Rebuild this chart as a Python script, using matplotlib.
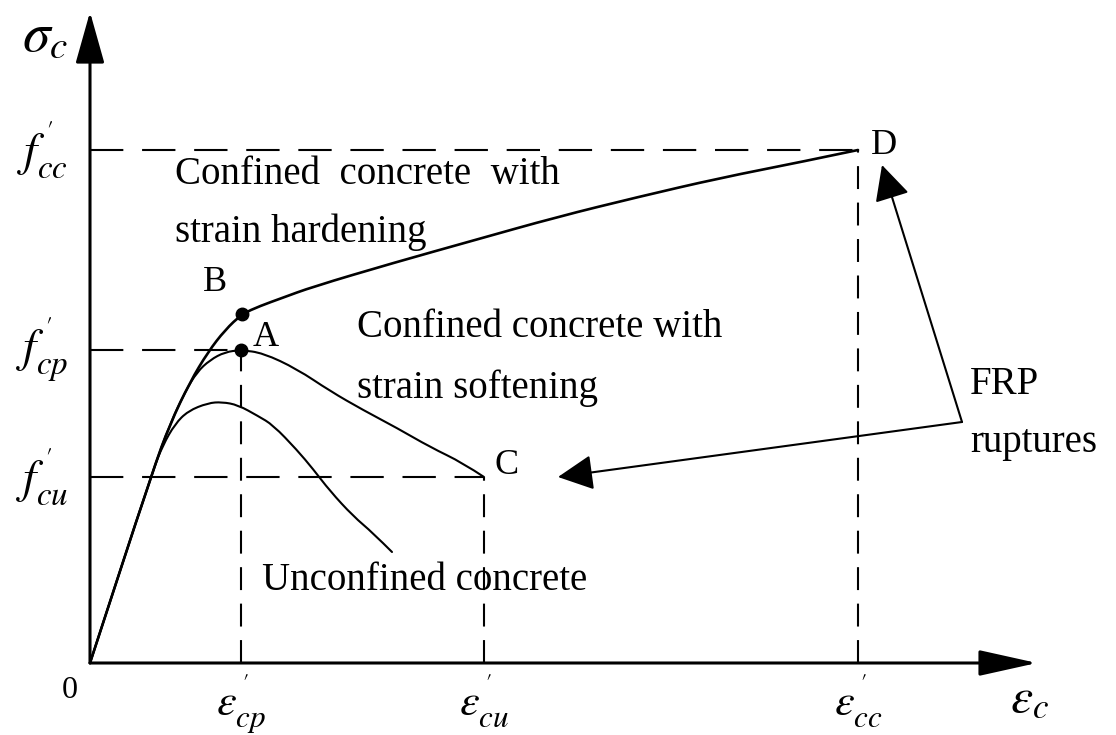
import numpy as np
import matplotlib
matplotlib.use("Agg")
import matplotlib.pyplot as plt
from matplotlib.patches import FancyArrowPatch, PathPatch
from matplotlib.path import Path

plt.rcParams["font.family"] = ["Liberation Serif", "DejaVu Serif"]
plt.rcParams["mathtext.fontset"] = "stix"

# characteristic points (arbitrary units)
eps_cp, eps_cu, eps_cc = 1.51, 3.94, 7.68
f_cp, f_cu, f_cc = 3.13, 1.86, 5.13

# confined concrete, strain hardening (O - B - D)
hard_eps = [0, 0.63, 0.80, 1.00, 1.18, 1.35, 1.52, 1.70, 1.92, 2.22, 3.03,
            3.85, 4.67, 5.48, 6.30, 7.11, 7.68]
hard_sig = [0, 1.93, 2.39, 2.81, 3.11, 3.33, 3.49, 3.57, 3.65, 3.76, 4.00,
            4.23, 4.46, 4.66, 4.85, 5.01, 5.13]
# confined concrete, strain softening (O - A - C)
soft_eps = [0, 0.63, 0.80, 0.95, 1.07, 1.20, 1.35, 1.51, 1.73, 2.07, 2.40,
            2.73, 3.07, 3.40, 3.73, 3.94]
soft_sig = [0, 1.93, 2.39, 2.71, 2.91, 3.03, 3.11, 3.13, 3.10, 2.94, 2.72,
            2.53, 2.35, 2.16, 2.00, 1.86]
# unconfined concrete
unc_eps = [0, 0.63, 0.73, 0.85, 0.98, 1.18, 1.32, 1.48, 1.68, 1.83, 2.07,
           2.23, 2.40, 2.63, 2.83, 3.02]
unc_sig = [0, 1.93, 2.18, 2.39, 2.52, 2.60, 2.61, 2.58, 2.47, 2.38, 2.13,
           1.94, 1.72, 1.47, 1.30, 1.11]

pt_A = (eps_cp, f_cp)
pt_B = (1.52, 3.49)
frp_tail = (8.72, 2.41)
frp_tips = [(7.92, 4.98), (4.68, 1.86)]


def smooth_curve(ax, xs, ys, lw):
    # quadratic b-spline through the read points (corner cutting only for drawing)
    p = np.column_stack([xs, ys])
    verts = [p[0], (p[0] + p[1]) / 2]
    codes = [Path.MOVETO, Path.LINETO]
    for i in range(1, len(p) - 1):
        end = (p[i] + p[i + 1]) / 2 if i < len(p) - 2 else p[i + 1]
        verts += [p[i], end]
        codes += [Path.CURVE3, Path.CURVE3]
    ax.add_patch(PathPatch(Path(verts, codes), fill=False, lw=lw, ec="black",
                           capstyle="round", joinstyle="round"))


fig = plt.figure(figsize=(11.16, 7.35), dpi=100)
ax = fig.add_axes([0, 0, 1, 1])
ax.set_xlim(-0.90, 10.26)
ax.set_ylim(-0.72, 6.63)
ax.axis("off")

# dashed guides
hd = dict(color="black", lw=1.5, dashes=(16, 9))
vd = dict(color="black", lw=1.5, dashes=(11, 6.5))
ax.plot([0, eps_cc], [f_cc, f_cc], **hd)
ax.plot([0, eps_cp], [f_cp, f_cp], **hd)
ax.plot([0, eps_cu], [f_cu, f_cu], **hd)
ax.plot([eps_cc, eps_cc], [0, f_cc], **vd)
ax.plot([eps_cp, eps_cp], [0, f_cp], **vd)
ax.plot([eps_cu, eps_cu], [0, f_cu], **vd)

# curves
smooth_curve(ax, hard_eps, hard_sig, 1.9)
smooth_curve(ax, soft_eps, soft_sig, 1.5)
smooth_curve(ax, unc_eps, unc_sig, 1.5)
ax.plot(*zip(pt_A, pt_B), "o", color="black", ms=9, ls="none")

# axes with arrows
ax.add_patch(FancyArrowPatch((0, 0), (0, 6.51), arrowstyle="-|>,head_length=1.6,head_width=0.45",
                             mutation_scale=20, lw=2.2, color="black", shrinkA=0, shrinkB=0))
ax.add_patch(FancyArrowPatch((0, 0), (9.47, 0), arrowstyle="-|>,head_length=1.8,head_width=0.4",
                             mutation_scale=20, lw=2.2, color="black", shrinkA=0, shrinkB=0))

# FRP rupture arrows
for tip in frp_tips:
    ax.add_patch(FancyArrowPatch(frp_tail, tip, arrowstyle="-|>,head_length=1.1,head_width=0.55",
                                 mutation_scale=20, lw=1.5, color="black", shrinkA=0, shrinkB=0))

# labels
ax.text(-0.45, 6.26, r"$\sigma_c$", fontsize=40, ha="center", va="center")
for lab, y in [("cc", f_cc), ("cp", f_cp), ("cu", f_cu)]:
    ax.text(-0.22, y, r"$f^{\,'}_{%s}$" % lab, fontsize=34, ha="right", va="center")
ax.text(-0.20, -0.28, "0", fontsize=23, ha="center", va="center")
for lab, x in [("cp", eps_cp), ("cu", eps_cu), ("cc", eps_cc)]:
    ax.text(x, -0.53, r"$\varepsilon^{\,'}_{%s}$" % lab, fontsize=32, ha="center", va="baseline")
ax.text(9.40, -0.48, r"$\varepsilon_c$", fontsize=36, ha="center", va="baseline")

fs = 28
ax.text(1.25, 3.80, "B", fontsize=26, ha="center", va="center")
ax.text(1.76, 3.25, "A", fontsize=26, ha="center", va="center")
ax.text(4.17, 1.97, "C", fontsize=26, ha="center", va="center")
ax.text(7.94, 5.18, "D", fontsize=26, ha="center", va="center")
ax.text(0.85, 4.88, "Confined  concrete  with", fontsize=fs, ha="left", va="center")
ax.text(0.85, 4.31, "strain hardening", fontsize=fs, ha="left", va="center")
ax.text(2.67, 3.35, "Confined concrete with", fontsize=fs, ha="left", va="center")
ax.text(2.67, 2.75, "strain softening", fontsize=fs, ha="left", va="center")
ax.text(1.72, 0.83, "Unconfined concrete", fontsize=fs, ha="left", va="center")
ax.text(8.80, 2.78, "FRP", fontsize=fs, ha="left", va="center")
ax.text(8.80, 2.20, "ruptures", fontsize=fs, ha="left", va="center")

fig.savefig("out.png", dpi=100, facecolor="white")
